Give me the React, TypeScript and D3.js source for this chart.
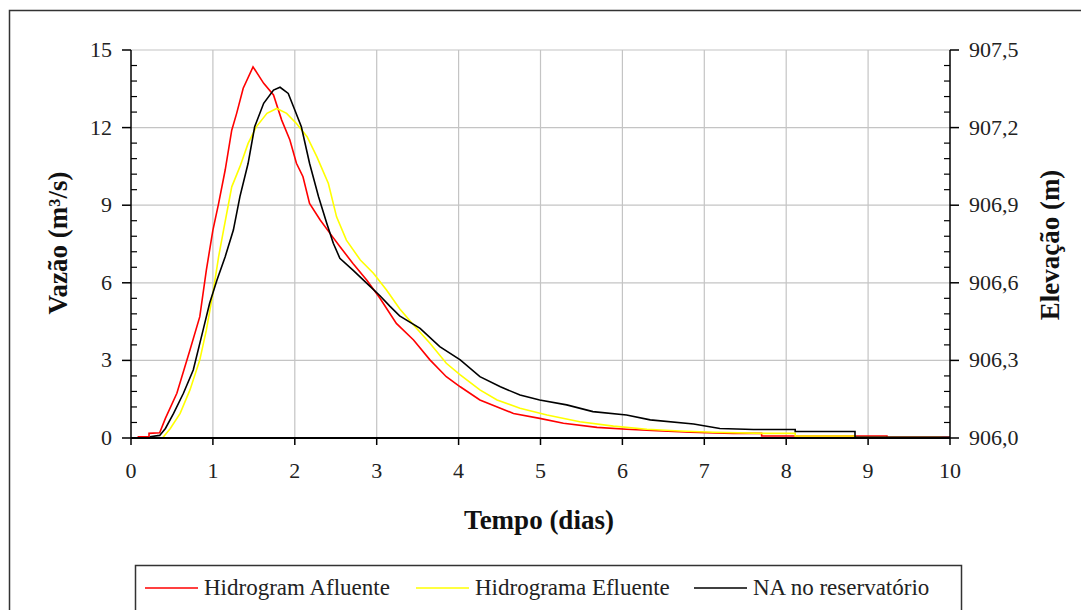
import React from "react";
import * as d3 from "d3";

// [tempo (dias), vazão (m3/s)]
const afluente: [number, number][] = [
  [0.08, 0.05], [0.22, 0.05], [0.22, 0.18], [0.35, 0.2], [0.42, 0.76],
  [0.56, 1.73], [0.72, 3.4], [0.84, 4.69], [0.92, 6.49], [1.0, 8.04],
  [1.07, 9.07], [1.15, 10.36], [1.23, 11.9], [1.29, 12.55], [1.37, 13.52],
  [1.49, 14.35], [1.62, 13.71], [1.74, 13.26], [1.84, 12.29], [1.94, 11.52],
  [2.02, 10.62], [2.1, 10.1], [2.18, 9.07], [2.31, 8.43], [2.43, 7.91],
  [2.55, 7.4], [2.71, 6.75], [2.88, 6.1], [3.04, 5.4], [3.24, 4.43],
  [3.45, 3.79], [3.65, 3.02], [3.85, 2.37], [4.02, 1.98], [4.26, 1.47],
  [4.67, 0.95], [4.99, 0.76], [5.28, 0.57], [5.69, 0.41], [6.05, 0.34],
  [6.42, 0.28], [6.83, 0.22], [7.35, 0.18], [7.7, 0.18], [7.7, 0.08],
  [9.23, 0.08], [9.23, 0.03], [10, 0.03],
];

// [tempo (dias), vazão (m3/s)]
const efluente: [number, number][] = [
  [0.23, 0.0], [0.39, 0.02], [0.48, 0.37], [0.6, 0.95], [0.72, 1.86],
  [0.84, 3.02], [0.92, 4.17], [1.0, 5.59], [1.07, 7.01], [1.13, 8.04],
  [1.23, 9.71], [1.33, 10.49], [1.43, 11.39], [1.53, 12.03], [1.66, 12.55],
  [1.78, 12.74], [1.9, 12.55], [2.02, 12.16], [2.15, 11.65], [2.27, 10.87],
  [2.41, 9.84], [2.51, 8.55], [2.63, 7.65], [2.8, 6.88], [2.96, 6.37],
  [3.12, 5.72], [3.28, 5.0], [3.45, 4.37], [3.65, 3.66], [3.85, 2.89],
  [4.02, 2.44], [4.26, 1.86], [4.47, 1.47], [4.75, 1.15], [5.08, 0.89],
  [5.48, 0.63], [5.89, 0.46], [6.3, 0.34], [6.7, 0.27], [7.11, 0.22],
  [7.72, 0.18], [8.11, 0.18], [8.11, 0.08], [8.84, 0.08], [8.84, 0.02],
  [9.9, 0.02],
];

// [tempo (dias), elevação (m)]
const nivel: [number, number][] = [
  [0.23, 906.005], [0.35, 906.01], [0.42, 906.037], [0.52, 906.095], [0.64, 906.173],
  [0.76, 906.263], [0.88, 906.417], [0.96, 906.521], [1.05, 906.611], [1.15, 906.701],
  [1.25, 906.804], [1.33, 906.933], [1.43, 907.062], [1.51, 907.203], [1.62, 907.294],
  [1.74, 907.345], [1.82, 907.356], [1.92, 907.332], [2.0, 907.268], [2.08, 907.203],
  [2.18, 907.062], [2.29, 906.933], [2.39, 906.83], [2.47, 906.753], [2.55, 906.695],
  [2.71, 906.649], [2.88, 906.598], [3.04, 906.55], [3.16, 906.51], [3.28, 906.472],
  [3.53, 906.424], [3.77, 906.353], [4.02, 906.302], [4.26, 906.237], [4.51, 906.198],
  [4.75, 906.166], [4.99, 906.147], [5.32, 906.128], [5.64, 906.102], [6.05, 906.089],
  [6.34, 906.07], [6.87, 906.054], [7.19, 906.037], [7.6, 906.033], [8.11, 906.033],
  [8.11, 906.025], [8.84, 906.025], [8.84, 906.003], [10, 906.003],
];

const xTicks = [0, 1, 2, 3, 4, 5, 6, 7, 8, 9, 10];
const yTicks = [0, 3, 6, 9, 12, 15];
const y2Ticks = [906.0, 906.3, 906.6, 906.9, 907.2, 907.5];

const legendItems = [
  { label: "Hidrogram Afluente", color: "#ff0000", x: 145 },
  { label: "Hidrograma Efluente", color: "#ffff00", x: 416 },
  { label: "NA no reservatório", color: "#000000", x: 694 },
];

const FONT = "Liberation Serif";
const css = `svg text { font-family: 'Liberation Serif', 'Times New Roman', Tinos, serif; }`;

export default function App() {
  const left = 131, right = 950, top = 50, bottom = 438;

  const x = d3.scaleLinear().domain([0, 10]).range([left, right]);
  const y = d3.scaleLinear().domain([0, 15]).range([bottom, top]);
  const y2 = d3.scaleLinear().domain([906.0, 907.5]).range([bottom, top]);

  const lineQ = d3.line<[number, number]>().x((d) => x(d[0])).y((d) => y(d[1]));
  const lineE = d3.line<[number, number]>().x((d) => x(d[0])).y((d) => y2(d[1]));

  // minor ticks: 5 subdivisions between major ticks
  const yMinor = d3.range(0, 15.001, 0.6).filter((v) => Math.abs(v / 3 - Math.round(v / 3)) > 1e-6);
  const y2Minor = d3.range(906.0, 907.501, 0.06).filter(
    (v) => Math.abs((v - 906) / 0.3 - Math.round((v - 906) / 0.3)) > 1e-6
  );

  return (
    <svg width={1081} height={610} style={{ position: "absolute", left: 0, top: 0 }} fontFamily={FONT}>
      <style>{css}</style>
      <rect x={9.5} y={10.5} width={1100} height={700} fill="#fff" stroke="#333" strokeWidth={1.5} />

      {/* grid */}
      {xTicks.slice(1, -1).map((t) => (
        <line key={"gx" + t} x1={x(t)} x2={x(t)} y1={top} y2={bottom} stroke="#c4c4c4" strokeWidth={1.2} />
      ))}
      {yTicks.slice(1).map((t) => (
        <line key={"gy" + t} x1={left} x2={right} y1={y(t)} y2={y(t)} stroke="#c4c4c4" strokeWidth={1.2} />
      ))}

      {/* series */}
      <path d={lineQ(afluente) ?? ""} fill="none" stroke="#ff0000" strokeWidth={1.6} />
      <path d={lineQ(efluente) ?? ""} fill="none" stroke="#ffff00" strokeWidth={1.6} />
      <path d={lineE(nivel) ?? ""} fill="none" stroke="#000" strokeWidth={1.6} />

      {/* left axis */}
      <line x1={left} x2={left} y1={top} y2={bottom} stroke="#000" strokeWidth={1.5} />
      {yTicks.map((t) => (
        <g key={"yl" + t}>
          <line x1={left - 9} x2={left} y1={y(t)} y2={y(t)} stroke="#000" strokeWidth={1.5} />
          <text x={112} y={y(t) + 7} textAnchor="end" fontSize={22} fill="#222">
            {t}
          </text>
        </g>
      ))}
      {yMinor.map((t) => (
        <line key={"ym" + t} x1={left} x2={left + 6} y1={y(t)} y2={y(t)} stroke="#000" strokeWidth={1.2} />
      ))}

      {/* right axis */}
      <line x1={right} x2={right} y1={top} y2={bottom} stroke="#000" strokeWidth={1.5} />
      {y2Ticks.map((t) => (
        <g key={"yr" + t}>
          <line x1={right} x2={right + 9} y1={y2(t)} y2={y2(t)} stroke="#000" strokeWidth={1.5} />
          <text x={969} y={y2(t) + 7} fontSize={22} fill="#222">
            {t.toFixed(1).replace(".", ",")}
          </text>
        </g>
      ))}
      {y2Minor.map((t) => (
        <line key={"y2m" + t} x1={right - 6} x2={right} y1={y2(t)} y2={y2(t)} stroke="#000" strokeWidth={1.2} />
      ))}

      {/* x axis */}
      <line x1={left} x2={right} y1={bottom} y2={bottom} stroke="#000" strokeWidth={2} />
      {xTicks.map((t) => (
        <g key={"x" + t}>
          <line x1={x(t)} x2={x(t)} y1={bottom} y2={bottom + 7} stroke="#000" strokeWidth={1.5} />
          <text x={x(t)} y={478} textAnchor="middle" fontSize={22} fill="#222">
            {t}
          </text>
        </g>
      ))}

      {/* axis titles */}
      <text x={539} y={529} textAnchor="middle" fontSize={27} fontWeight="bold" fill="#111">
        Tempo (dias)
      </text>
      <text transform="translate(67,243) rotate(-90)" textAnchor="middle" fontSize={27} fontWeight="bold" fill="#111">
        Vazão (m³/s)
      </text>
      <text transform="translate(1059,245) rotate(-90)" textAnchor="middle" fontSize={27} fontWeight="bold" fill="#111">
        Elevação (m)
      </text>

      {/* legend */}
      <rect x={135.5} y={565.5} width={826} height={60} fill="#fff" stroke="#333" strokeWidth={1.5} />
      {legendItems.map((it) => (
        <g key={it.label}>
          <line x1={it.x} x2={it.x + 53} y1={588} y2={588} stroke={it.color} strokeWidth={1.6} />
          <text x={it.x + 59} y={595} fontSize={23} fill="#222">
            {it.label}
          </text>
        </g>
      ))}
    </svg>
  );
}
